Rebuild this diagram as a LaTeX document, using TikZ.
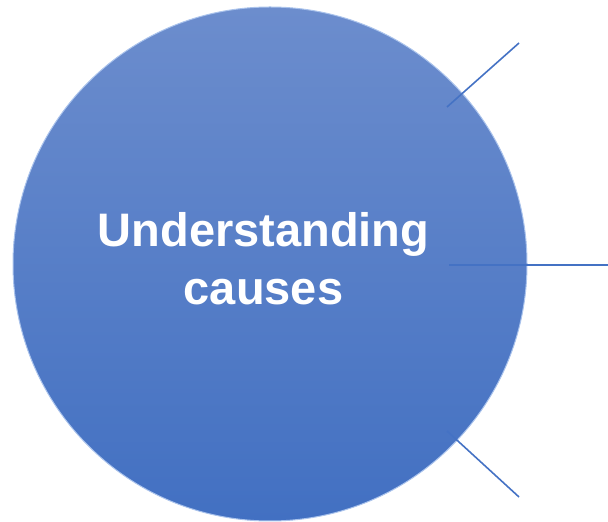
\documentclass[tikz,border=0pt]{standalone}
\usepackage{fontspec}
\setmainfont{Liberation Sans}
\usetikzlibrary{positioning}
\definecolor{circletop}{RGB}{108,141,205}
\definecolor{circlebottom}{RGB}{66,112,194}
\definecolor{circlerim}{RGB}{170,195,236}
\definecolor{branchline}{RGB}{68,114,196}

\begin{document}
\begin{tikzpicture}[x=1pt, y=1pt,
    bubble/.style={
        circle,
        inner sep=0pt,
        minimum size=514pt,
        top color=circletop,
        bottom color=circlebottom,
        draw=circlerim,
        line width=1pt
    },
    bubbletext/.style={
        text=white,
        align=center,
        font=\fontsize{47}{58}\selectfont\bfseries
    },
    branch/.style={
        draw=branchline,
        line width=1.6pt
    }]
    \useasboundingbox (0, 0) rectangle (608, 522);
    \node (understanding_circle) [bubble] at (270, 258) {};
    \node (understanding_label) [bubbletext] at (263.5, 263)
    {
        Understanding\\causes
    };
    \coordinate (top_start) at (447, 415);
    \coordinate (top_end) at (519, 479);
    \coordinate (middle_start) at (449, 257);
    \coordinate (middle_end) at (608, 257);
    \coordinate (bottom_start) at (447, 91);
    \coordinate (bottom_end) at (519, 25);
    \draw[branch] (top_start) to (top_end);
    \draw[branch] (middle_start) to (middle_end);
    \draw[branch] (bottom_start) to (bottom_end);
\end{tikzpicture}
\end{document}
